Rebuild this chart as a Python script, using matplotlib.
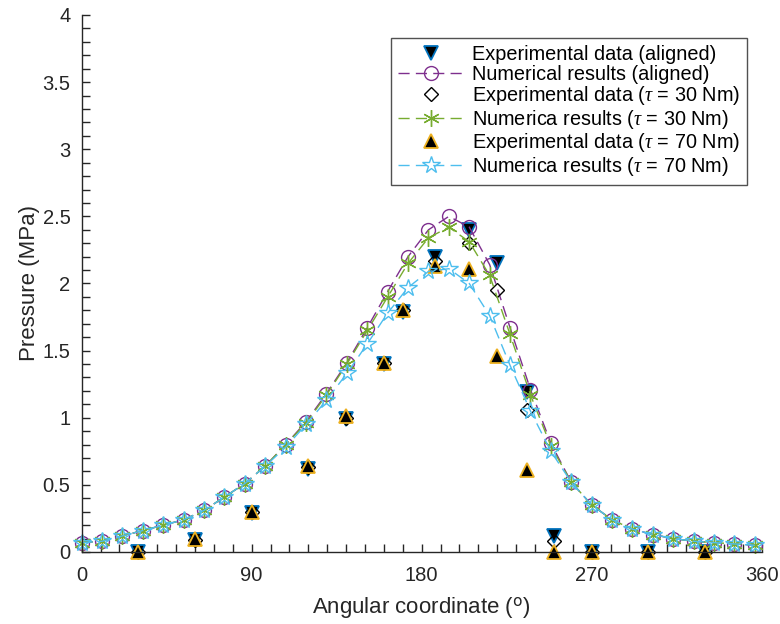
#!/usr/bin/env python3
"""
plot.py - pressure distribution vs angular coordinate,
experimental data against numerical results for three load cases.
"""

import matplotlib
matplotlib.use("Agg")
import matplotlib.pyplot as plt
from matplotlib.ticker import MultipleLocator

plt.rcParams['font.family'] = ['Liberation Sans', 'DejaVu Sans']
plt.rcParams['mathtext.fontset'] = 'custom'
plt.rcParams['mathtext.it'] = 'Liberation Serif:italic'

# numerical model nodes (deg)
angle_num = [0.0, 10.8, 21.6, 32.4, 43.2, 54.0, 64.8, 75.6, 86.4, 97.2,
             108.0, 118.8, 129.6, 140.4, 151.2, 162.0, 172.8, 183.6, 194.4, 205.2,
             216.0, 226.8, 237.6, 248.4, 259.2, 270.0, 280.8, 291.6, 302.4, 313.2,
             324.0, 334.8, 345.6, 356.4]

num_aligned = [0.07, 0.08, 0.12, 0.16, 0.20, 0.24, 0.31, 0.41, 0.51, 0.64,
               0.80, 0.97, 1.18, 1.41, 1.67, 1.94, 2.20, 2.40, 2.50, 2.42,
               2.14, 1.67, 1.21, 0.81, 0.52, 0.35, 0.24, 0.17, 0.13, 0.10,
               0.08, 0.07, 0.06, 0.05]

num_t30 = [0.07, 0.08, 0.12, 0.16, 0.20, 0.24, 0.31, 0.41, 0.51, 0.64,
           0.80, 0.96, 1.17, 1.40, 1.65, 1.90, 2.15, 2.34, 2.42, 2.31,
           2.06, 1.62, 1.17, 0.79, 0.52, 0.35, 0.24, 0.17, 0.13, 0.10,
           0.08, 0.07, 0.06, 0.05]

num_t70 = [0.07, 0.08, 0.12, 0.16, 0.20, 0.24, 0.31, 0.41, 0.51, 0.64,
           0.78, 0.95, 1.13, 1.33, 1.55, 1.78, 1.97, 2.09, 2.11, 2.00,
           1.76, 1.39, 1.05, 0.75, 0.52, 0.35, 0.24, 0.17, 0.13, 0.10,
           0.08, 0.07, 0.06, 0.05]

# measurement positions (deg)
angle_exp = [30, 60, 90, 120, 140, 160, 170, 187, 205, 220, 236, 250, 270, 300, 330]

exp_aligned = [0.0, 0.09, 0.29, 0.62, 0.99, 1.40, 1.79, 2.20, 2.40, 2.15, 1.19, 0.12, 0.0, 0.0, 0.0]
exp_t30 = [0.0, 0.09, 0.30, 0.63, 1.00, 1.41, 1.80, 2.17, 2.30, 1.95, 1.06, 0.08, 0.0, 0.0, 0.0]
exp_t70 = [0.0, 0.10, 0.30, 0.64, 1.01, 1.41, 1.80, 2.13, 2.11, 1.46, 0.61, 0.0, 0.0, 0.0, 0.0]

# MATLAB default palette
BLUE = '#0072BD'
ORANGE = '#EDB120'
PURPLE = '#7E2F8E'
GREEN = '#77AC30'
CYAN = '#4DBEEE'
AX = '#262626'

dash = (0, (8, 4.5))

fig = plt.figure(figsize=(7.8, 6.24), dpi=100)
ax = fig.add_axes([0.1047, 0.1154, 0.8718, 0.8606])

ax.plot(angle_exp, exp_aligned, linestyle='none', marker='v', ms=10,
        mfc='black', mec=BLUE, mew=1.3, clip_on=False,
        label='Experimental data (aligned)')
ax.plot(angle_num, num_aligned, linestyle=dash, lw=1.0, color=PURPLE,
        marker='o', ms=10, mfc='none', mec=PURPLE, mew=1.0, clip_on=False,
        label='Numerical results (aligned)')
ax.plot(angle_exp, exp_t30, linestyle='none', marker='D', ms=7.5,
        mfc='none', mec='black', mew=1.0, clip_on=False,
        label=r'Experimental data ($\tau$ = 30 Nm)')
ax.plot(angle_num, num_t30, linestyle=dash, lw=1.0, color=GREEN,
        marker=(6, 2, 0), ms=12, mec=GREEN, mew=1.0, clip_on=False,
        label=r'Numerica results ($\tau$ = 30 Nm)')
ax.plot(angle_exp, exp_t70, linestyle='none', marker='^', ms=10,
        mfc='black', mec=ORANGE, mew=1.3, clip_on=False,
        label=r'Experimental data ($\tau$ = 70 Nm)')
ax.plot(angle_num, num_t70, linestyle=dash, lw=1.0, color=CYAN,
        marker='*', ms=13, mfc='none', mec=CYAN, mew=1.0, clip_on=False,
        label=r'Numerica results ($\tau$ = 70 Nm)')

ax.set_xlim(0, 360)
ax.set_ylim(0, 4)
ax.xaxis.set_major_locator(MultipleLocator(90))
ax.xaxis.set_minor_locator(MultipleLocator(10))
ax.yaxis.set_major_locator(MultipleLocator(0.5))
ax.yaxis.set_minor_locator(MultipleLocator(0.1))
ax.set_yticks([0, 0.5, 1, 1.5, 2, 2.5, 3, 3.5, 4])
ax.set_yticklabels(['0', '0.5', '1', '1.5', '2', '2.5', '3', '3.5', '4'])

for side in ['top', 'right']:
    ax.spines[side].set_visible(False)
for side in ['left', 'bottom']:
    ax.spines[side].set_color(AX)
    ax.spines[side].set_linewidth(1.0)

ax.tick_params(which='both', direction='in', colors=AX, labelsize=14.5,
               length=6, width=1.0)
ax.tick_params(axis='x', pad=10)
ax.tick_params(axis='y', pad=8)

ax.set_xlabel('Angular coordinate ($^{\\rm o}$)', fontsize=16, color=AX, labelpad=7)
ax.set_ylabel('Pressure (MPa)', fontsize=16, color=AX, labelpad=2)

leg = ax.legend(loc='upper right', bbox_to_anchor=(0.978, 0.957), fontsize=14.3,
                frameon=True, fancybox=False, handlelength=3.3, handletextpad=0.4,
                borderpad=0.35, labelspacing=0.03, borderaxespad=0)
leg.get_frame().set_edgecolor(AX)
leg.get_frame().set_linewidth(1.0)

fig.savefig('out.png', dpi=100)
